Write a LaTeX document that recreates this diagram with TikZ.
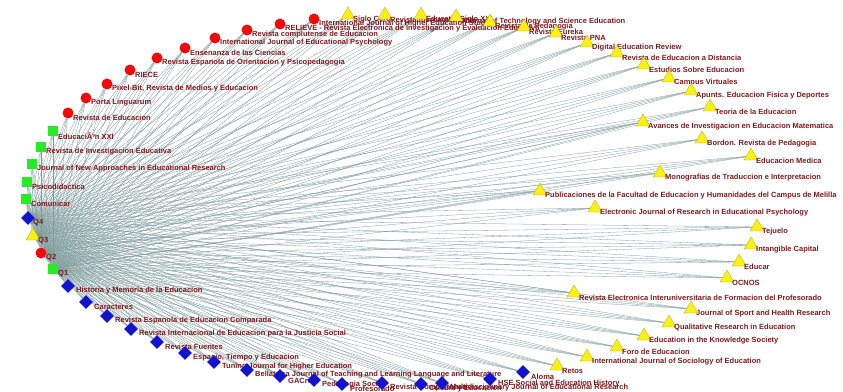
\documentclass[tikz,border=0pt]{standalone}
\usepackage{fontspec}
\setmainfont{Liberation Sans}
\usetikzlibrary{shapes.geometric}
\definecolor{labred}{RGB}{125,25,30}
\definecolor{linkgray}{RGB}{125,155,155}
\definecolor{qred}{RGB}{240,10,10}
\definecolor{qgreen}{RGB}{40,235,40}
\definecolor{qyellow}{RGB}{250,240,20}
\definecolor{qyelline}{RGB}{190,170,20}
\definecolor{qblue}{RGB}{20,20,205}
\pgfdeclarelayer{background}
\pgfsetlayers{background,main}

\begin{document}
\begin{tikzpicture}[x=1pt,y=-1pt,
        lbl/.style={anchor=west,xshift=5pt,yshift=-5pt,inner sep=0pt,
            text=labred,font=\bfseries\fontsize{7.5}{8}\selectfont},
        qtwo/.style={circle,fill=qred,minimum size=11pt,inner sep=0pt},
        qone/.style={rectangle,fill=qgreen,minimum size=10pt,inner sep=0pt},
        qthree/.style={regular polygon,regular polygon sides=3,fill=qyellow,
            draw=qyelline,line width=0.3pt,minimum size=16pt,inner sep=0pt},
        qfour/.style={diamond,fill=qblue,minimum size=14pt,inner sep=0pt},
        link/.style={linkgray,line width=0.3pt}]
\useasboundingbox (0,0) rectangle (843,391);

% quartiles
\node[qfour]  (q4) at (28,218) {};  \node[lbl] (q4t) at (q4) {Q4};
\node[qthree] (q3) at (33,236) {};  \node[lbl] (q3t) at (q3) {Q3};
\node[qtwo]   (q2) at (41,253) {};  \node[lbl] (q2t) at (q2) {Q2};
\node[qone]   (q1) at (53,269) {};  \node[lbl] (q1t) at (q1) {Q1};

% Q1 journals
\node[qone] (g1) at (53,131) {};  \node[lbl] (g1t) at (g1) {EducaciÃ³n XXI};
\node[qone] (g2) at (41,147) {};  \node[lbl] (g2t) at (g2) {Revista de Investigacion Educativa};
\node[qone] (g3) at (32,164) {};  \node[lbl] (g3t) at (g3) {Journal of New Approaches in Educational Research};
\node[qone] (g4) at (27,182) {};  \node[lbl] (g4t) at (g4) {Psicodidactica};
\node[qone] (g5) at (26,199) {};  \node[lbl] (g5t) at (g5) {Comunicar};

% Q2 journals
\node[qtwo] (r1) at (68,113) {};  \node[lbl] (r1t) at (r1) {Revista de Educacion};
\node[qtwo] (r2) at (86,98) {};   \node[lbl] (r2t) at (r2) {Porta Linguarum};
\node[qtwo] (r3) at (107,84) {};  \node[lbl] (r3t) at (r3) {Pixel-Bit, Revista de Medios y Educacion};
\node[qtwo] (r4) at (130,70) {};  \node[lbl] (r4t) at (r4) {RIECE};
\node[qtwo] (r5) at (157,58) {};  \node[lbl] (r5t) at (r5) {Revista Espanola de Orientacion y Psicopedagogia};
\node[qtwo] (r6) at (185,48) {};  \node[lbl] (r6t) at (r6) {Ensenanza de las Ciencias};
\node[qtwo] (r7) at (215,38) {};  \node[lbl] (r7t) at (r7) {International Journal of Educational Psychology};
\node[qtwo] (r8) at (247,30) {};  \node[lbl] (r8t) at (r8) {Revista complutense de Educacion};
\node[qtwo] (r9) at (280,24) {};  \node[lbl] (r9t) at (r9) {RELIEVE - Revista Electronica de Investigacion y Evaluacion Educativa};
\node[qtwo] (r10) at (314,19) {}; \node[lbl] (r10t) at (r10) {International Journal of Higher Education Studies};

% Q3 journals
\node[qthree] (y1) at (348,15) {};  \node[lbl] (y1t) at (y1) {Siglo Cero};
\node[qthree] (y2) at (385,15) {};  \node[lbl] (y2t) at (y2) {Revista Iberoamericana};
\node[qthree] (y3) at (421,15) {};  \node[lbl] (y3t) at (y3) {Educatio Siglo XXI};
\node[qthree] (y4) at (456,17) {};  \node[lbl] (y4t) at (y4) {Journal of Technology and Science Education};
\node[qthree] (y5) at (490,22) {};  \node[lbl] (y5t) at (y5) {Revista de Pedagogia};
\node[qthree] (y6) at (524,27) {};  \node[lbl] (y6t) at (y6) {Revista Eureka};
\node[qthree] (y7) at (556,33) {};  \node[lbl] (y7t) at (y7) {Revista PNA};
\node[qthree] (y8) at (587,43) {};  \node[lbl] (y8t) at (y8) {Digital Education Review};
\node[qthree] (y9) at (617,53) {};  \node[lbl] (y9t) at (y9) {Revista de Educacion a Distancia};
\node[qthree] (y10) at (644,65) {}; \node[lbl] (y10t) at (y10) {Estudios Sobre Educacion};
\node[qthree] (y11) at (669,78) {}; \node[lbl] (y11t) at (y11) {Campus Virtuales};
\node[qthree] (y12) at (691,91) {}; \node[lbl] (y12t) at (y12) {Apunts. Educacion Fisica y Deportes};
\node[qthree] (y13) at (710,107) {}; \node[lbl] (y13t) at (y13) {Teoria de la Educacion};
\node[qthree] (y14) at (643,122) {}; \node[lbl] (y14t) at (y14) {Avances de Investigacion en Educacion Matematica};
\node[qthree] (y15) at (702,139) {}; \node[lbl] (y15t) at (y15) {Bordon. Revista de Pedagogia};
\node[qthree] (y16) at (751,156) {}; \node[lbl] (y16t) at (y16) {Educacion Medica};
\node[qthree] (y17) at (660,173) {}; \node[lbl] (y17t) at (y17) {Monografias de Traduccion e Interpretacion};
\node[qthree] (y18) at (540,191) {}; \node[lbl] (y18t) at (y18) {Publicaciones de la Facultad de Educacion y Humanidades del Campus de Melilla};
\node[qthree] (y19) at (595,208) {}; \node[lbl] (y19t) at (y19) {Electronic Journal of Research in Educational Psychology};
\node[qthree] (y20) at (757,227) {}; \node[lbl] (y20t) at (y20) {Tejuelo};
\node[qthree] (y21) at (751,245) {}; \node[lbl] (y21t) at (y21) {Intangible Capital};
\node[qthree] (y22) at (739,262) {}; \node[lbl] (y22t) at (y22) {Educar};
\node[qthree] (y23) at (727,278) {}; \node[lbl] (y23t) at (y23) {OCNOS};
\node[qthree] (y24) at (574,293) {}; \node[lbl] (y24t) at (y24) {Revista Electronica Interuniversitaria de Formacion del Profesorado};
\node[qthree] (y25) at (691,309) {}; \node[lbl] (y25t) at (y25) {Journal of Sport and Health Research};
\node[qthree] (y26) at (669,323) {}; \node[lbl] (y26t) at (y26) {Qualitative Research in Education};
\node[qthree] (y27) at (644,336) {}; \node[lbl] (y27t) at (y27) {Education in the Knowledge Society};
\node[qthree] (y28) at (617,347) {}; \node[lbl] (y28t) at (y28) {Foro de Educacion};
\node[qthree] (y29) at (587,357) {}; \node[lbl] (y29t) at (y29) {International Journal of Sociology of Education};
\node[qthree] (y30) at (557,366) {}; \node[lbl] (y30t) at (y30) {Retos};

% Q4 journals
\node[qfour] (b1) at (68,286) {};   \node[lbl,xshift=3pt] (b1t) at (b1) {Historia y Memoria de la Educacion};
\node[qfour] (b2) at (86,302) {};   \node[lbl,xshift=3pt] (b2t) at (b2) {Caracteres};
\node[qfour] (b3) at (107,316) {};  \node[lbl,xshift=3pt] (b3t) at (b3) {Revista Espanola de Educacion Comparada};
\node[qfour] (b4) at (131,329) {};  \node[lbl,xshift=3pt] (b4t) at (b4) {Revista Internacional de Educacion para la Justicia Social};
\node[qfour] (b5) at (157,342) {};  \node[lbl,xshift=3pt] (b5t) at (b5) {Revista Fuentes};
\node[qfour] (b6) at (185,353) {};  \node[lbl,xshift=3pt] (b6t) at (b6) {Espacio, Tiempo y Educacion};
\node[qfour] (b7) at (214,362) {};  \node[lbl,xshift=3pt] (b7t) at (b7) {Tuning Journal for Higher Education};
\node[qfour] (b8) at (247,370) {};  \node[lbl,xshift=3pt] (b8t) at (b8) {Bellaterra Journal of Teaching and Learning Language and Literature};
\node[qfour] (b9) at (280,376) {};  \node[lbl,xshift=3pt] (b9t) at (b9) {GACreta};
\node[qfour] (b10) at (314,380) {}; \node[lbl,xshift=3pt] (b10t) at (b10) {Pedagogia Social};
\node[qfour] (b11) at (342,384) {}; \node[lbl,xshift=3pt] (b11t) at (b11) {Profesorado};
\node[qfour] (b12) at (382,383) {}; \node[lbl,xshift=3pt] (b12t) at (b12) {Revista Complutense};
\node[qfour] (b13) at (421,384) {}; \node[lbl,xshift=3pt] (b13t) at (b13) {Cultura y Educacion};
\node[qfour] (b14) at (442,383) {}; \node[lbl,xshift=3pt] (b14t) at (b14) {Multidisciplinary Journal of Educational Research};
\node[qfour] (b15) at (490,379) {}; \node[lbl,xshift=3pt] (b15t) at (b15) {HSE Social and Education History};
\node[qfour] (b16) at (523,372) {}; \node[lbl,xshift=3pt] (b16t) at (b16) {Aloma};

% links
\begin{pgfonlayer}{background}
\foreach \j in {g1,g2,g3,g4,g5,r1,r2,r3,r4,r5,r6,r7,r8,r9,r10,
        y1,y2,y3,y4,y5,y6,y7,y8,y9,y10,y11,y12,y13,y14,y15,y16,y17,y18,y19,y20,
        y21,y22,y23,y24,y25,y26,y27,y28,y29,y30,
        b1,b2,b3,b4,b5,b6,b7,b8,b9,b10,b11,b12,b13,b14,b15,b16}
    \foreach \q in {q1,q2,q3,q4}
        \draw[link] (\j) -- (\q);
\end{pgfonlayer}

\end{tikzpicture}
\end{document}
